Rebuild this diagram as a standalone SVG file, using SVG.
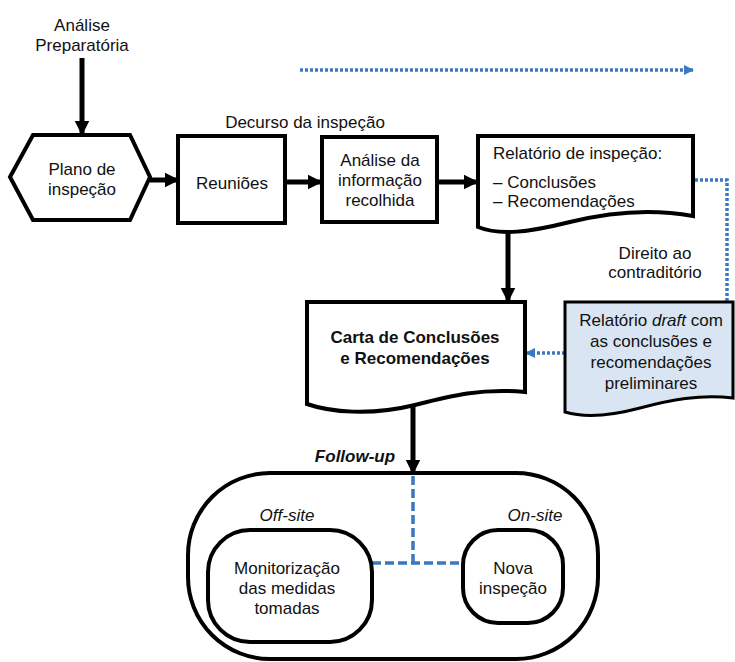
<svg xmlns="http://www.w3.org/2000/svg" width="735" height="662" viewBox="0 0 735 662">
<style>
text{font-family:"Liberation Sans",Arial,sans-serif;font-size:17px;fill:#111;text-anchor:middle}
.node{fill:#fff;stroke:#000;stroke-width:4;stroke-linejoin:miter}
.draft{fill:#d9e5f2;stroke:#000;stroke-width:3}
.arr{stroke:#000;stroke-width:5;fill:none}
.dot{stroke:#3a78c2;stroke-width:3.5;fill:none;stroke-dasharray:3 2}
.dash{stroke:#3a78c2;stroke-width:3.5;fill:none;stroke-dasharray:9 4}
.lft{text-anchor:start}
</style>
<defs>
<marker id="ah" viewBox="0 0 10 10" refX="9" refY="5" markerWidth="3" markerHeight="3.2" orient="auto" markerUnits="strokeWidth"><path d="M0,0 L10,5 L0,10 Z" fill="#000"/></marker>
<marker id="bh" viewBox="0 0 10 10" refX="9" refY="5" markerWidth="3" markerHeight="3.2" orient="auto" markerUnits="strokeWidth"><path d="M0,0 L10,5 L0,10 Z" fill="#3a78c2"/></marker>
</defs>
<g id="followup">
<rect class="node" x="188" y="473" width="410" height="186" rx="82" ry="82"/>
<text x="355" y="462" font-weight="bold" font-style="italic">Follow-up</text>
</g>
<g id="connectors">
<line class="arr" x1="82" y1="58" x2="82" y2="134" marker-end="url(#ah)"/>
<line class="arr" x1="150" y1="180" x2="178" y2="180" marker-end="url(#ah)"/>
<line class="arr" x1="285" y1="182" x2="321" y2="182" marker-end="url(#ah)"/>
<line class="arr" x1="437" y1="182" x2="477" y2="182" marker-end="url(#ah)"/>
<line class="arr" x1="508" y1="230" x2="508" y2="301" marker-end="url(#ah)"/>
<line class="arr" x1="413" y1="405" x2="413" y2="473" marker-end="url(#ah)"/>
<line class="dot" x1="300" y1="70" x2="693" y2="70" marker-end="url(#bh)"/>
<polyline class="dot" points="695,180 727,180 727,302"/>
<line class="dot" x1="565" y1="353" x2="526" y2="353" marker-end="url(#bh)"/>
<polyline class="dash" points="413,476 413,563"/>
<line class="dash" x1="372" y1="563" x2="463" y2="563"/>
</g>
<g id="analise-preparatoria">
<text x="82" y="31">Análise</text>
<text x="82" y="51">Preparatória</text>
</g>
<g id="decurso">
<text x="305" y="128">Decurso da inspeção</text>
</g>
<g id="plano">
<polygon class="node" points="10,177 33,135 130,135 150,177 130,220 33,220"/>
<text x="82" y="175">Plano de</text>
<text x="82" y="195">inspeção</text>
</g>
<g id="reunioes">
<rect class="node" x="178" y="136" width="107" height="87"/>
<text x="232" y="189">Reuniões</text>
</g>
<g id="analise-info">
<rect class="node" x="322" y="137" width="115" height="85"/>
<text x="380" y="166">Análise da</text>
<text x="380" y="186">informação</text>
<text x="380" y="206">recolhida</text>
</g>
<g id="relatorio">
<path class="node" d="M478,136 H693 V216 C650,208 610,212 570,222 C530,232 500,236 478,227 Z"/>
<text class="lft" x="493" y="159">Relatório de inspeção:</text>
<text class="lft" x="493" y="188">– Conclusões</text>
<text class="lft" x="493" y="207">– Recomendações</text>
</g>
<g id="direito">
<text x="655" y="259">Direito ao</text>
<text x="655" y="278">contraditório</text>
</g>
<g id="carta">
<path class="node" d="M307,302 H525 V392 C480,388 450,396 415,405 C370,416 330,412 307,404 Z"/>
<text x="415" y="343" font-weight="bold">Carta de Conclusões</text>
<text x="415" y="364" font-weight="bold">e Recomendações</text>
</g>
<g id="draft">
<path class="draft" d="M565,302 H733 V398 C700,394 670,400 640,408 C610,416 585,418 565,412 Z"/>
<text x="651" y="326">Relatório <tspan font-style="italic">draft</tspan> com</text>
<text x="651" y="347">as conclusões e</text>
<text x="651" y="368">recomendações</text>
<text x="651" y="389">preliminares</text>
</g>
<g id="offsite">
<text x="287" y="521" font-style="italic">Off-site</text>
<rect class="node" x="208" y="530" width="164" height="112" rx="42" ry="42"/>
<text x="287" y="574">Monitorização</text>
<text x="287" y="594">das medidas</text>
<text x="287" y="614">tomadas</text>
</g>
<g id="onsite">
<text x="535" y="521" font-style="italic">On-site</text>
<rect class="node" x="463" y="530" width="100" height="93" rx="35" ry="35"/>
<text x="513" y="574">Nova</text>
<text x="513" y="594">inspeção</text>
</g>
</svg>
